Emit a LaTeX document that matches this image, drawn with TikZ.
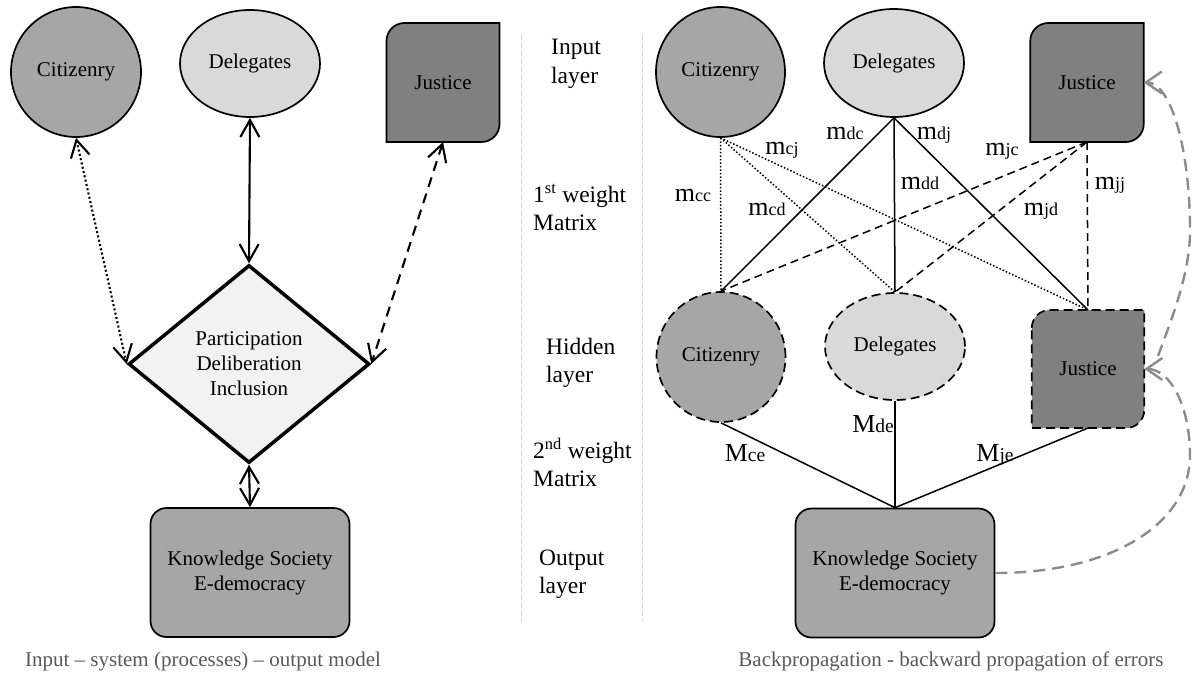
\documentclass[tikz,border=0pt]{standalone}
\usepackage{fontspec}
\setmainfont{Liberation Serif}
\usetikzlibrary{shapes.geometric,arrows.meta,backgrounds}

\definecolor{citgray}{HTML}{A6A6A6}
\definecolor{delgray}{HTML}{D9D9D9}
\definecolor{jusgray}{HTML}{808080}
\definecolor{procgray}{HTML}{F2F2F2}
\definecolor{capgray}{HTML}{595959}
\definecolor{sepgray}{HTML}{D0D0D0}
\definecolor{bpgray}{HTML}{8C8C8C}

\newcommand{\nodefont}{\fontsize{21}{25}\selectfont}
\newcommand{\layerfont}{\fontsize{23.5}{28.5}\selectfont}
% weight label: large letter followed by a smaller index on the same baseline
\newcommand{\wlab}[2]{{\fontsize{26}{26}\selectfont #1}{\fontsize{18}{18}\selectfont #2}}
\newcommand{\Wlab}[2]{{\fontsize{26}{26}\selectfont #1}{\fontsize{19.5}{19.5}\selectfont #2}}

\begin{document}
\begin{tikzpicture}[x=1pt,y=-1pt,
  ellnode/.style={ellipse, draw, line width=1.7pt, inner sep=0pt, font=\nodefont},
  hidden/.style={dash pattern=on 9pt off 5pt},
  jusnode/.style={rectangle, draw=none, inner sep=0pt, outer sep=0pt, font=\nodefont},
  jusshape/.style={fill=jusgray, draw=black, line width=1.7pt},
  ksnode/.style={rectangle, rounded corners=16pt, draw, line width=1.7pt, fill=citgray,
    minimum width=199pt, minimum height=129pt, align=center, font=\nodefont},
  lboth/.style={line width=2.1pt,
    {Straight Barb[length=17pt,width=19pt]}-{Straight Barb[length=17pt,width=19pt]}},
  ldash/.style={dash pattern=on 10pt off 7pt},
  ldot/.style={dash pattern=on 2pt off 2.4pt},
  wsolid/.style={line width=1.5pt},
  wdot/.style={line width=1.5pt, dash pattern=on 1.5pt off 2pt},
  wdash/.style={line width=1.5pt, dash pattern=on 8pt off 5pt},
  wlabel/.style={anchor=base, inner sep=0pt},
  layerlab/.style={anchor=west, align=left, inner sep=0pt, font=\layerfont},
  caption/.style={inner sep=0pt, text=capgray, font=\fontsize{21}{25}\selectfont},
  sepline/.style={draw=sepgray, line width=1pt, dash pattern=on 5pt off 3pt},
  bparrow/.style={draw=bpgray, line width=2.4pt, dash pattern=on 12pt off 7pt,
    -{Straight Barb[length=16pt,width=22pt]}}
]
\useasboundingbox (0,0) rectangle (1193,672);

% ---------- input - system - output model ----------
\node[ellnode, fill=citgray, minimum width=130pt, minimum height=130pt] (lc) at (76,72) {Citizenry};
\node[ellnode, fill=delgray, minimum width=140pt, minimum height=107pt] (ld) at (250,63.5) {Delegates};
\node[jusnode, minimum width=113pt, minimum height=119pt] (lj) at (443,82.5) {Justice};
\node[diamond, draw, line width=3.5pt, fill=procgray, minimum width=241pt, minimum height=198pt,
  inner sep=0pt, align=center, font=\nodefont] (proc) at (249,364)
  {Participation\\Deliberation\\Inclusion};
\node[ksnode] (lks) at (250,572.5) {Knowledge Society\\E-democracy};

\draw[lboth] (ld.south) -- (proc.north);
\draw[lboth, ldot] (lc.south) -- (proc.west);
\draw[lboth, ldash] (lj.south) -- (proc.east);
\draw[lboth] (proc.south) -- (lks.north);

\node[caption] (capl) at (203,661) {Input – system (processes) – output model};

% ---------- layer column ----------
\draw[sepline] (521.5,35) -- (521.5,622);
\draw[sepline] (642.5,35) -- (642.5,622);

\node[layerlab] (lin) at (551,64) {Input\\layer};
\node[layerlab] (lw1) at (533,207.5) {1\textsuperscript{st} weight\\Matrix};
\node[layerlab] (lhid) at (546,363) {Hidden\\layer};
\node[layerlab] (lw2) at (533,462.5) {2\textsuperscript{nd} weight\\Matrix};
\node[layerlab] (lout) at (539,574) {Output\\layer};

% ---------- network with backpropagation ----------
\node[ellnode, fill=citgray, minimum width=129pt, minimum height=130pt] (rc) at (720.5,72) {Citizenry};
\node[ellnode, fill=delgray, minimum width=140pt, minimum height=108pt] (rd) at (894,63) {Delegates};
\node[jusnode, minimum width=113.5pt, minimum height=119pt] (rj) at (1087,82.5) {Justice};

\node[ellnode, hidden, fill=citgray, minimum width=129pt, minimum height=130pt] (hc) at (721,357) {Citizenry};
\node[ellnode, hidden, fill=delgray, minimum width=140pt, minimum height=107pt] (hd) at (895,346.5) {Delegates};
\node[jusnode, minimum width=112.5pt, minimum height=118pt] (hj) at (1088,369) {Justice};

\node[ksnode] (rks) at (895,573) {Knowledge Society\\E-democracy};

\begin{pgfonlayer}{background}
  \draw[jusshape] ([yshift=-18pt]lj.north west) arc[start angle=180,end angle=90,radius=18pt]
    -- (lj.north east) -- ([yshift=18pt]lj.south east) arc[start angle=0,end angle=-90,radius=18pt]
    -- (lj.south west) -- cycle;
  \draw[jusshape] ([yshift=-18pt]rj.north west) arc[start angle=180,end angle=90,radius=18pt]
    -- (rj.north east) -- ([yshift=18pt]rj.south east) arc[start angle=0,end angle=-90,radius=18pt]
    -- (rj.south west) -- cycle;
  \draw[jusshape, hidden] ([yshift=-18pt]hj.north west) arc[start angle=180,end angle=90,radius=18pt]
    -- (hj.north east) -- ([yshift=18pt]hj.south east) arc[start angle=0,end angle=-90,radius=18pt]
    -- (hj.south west) -- cycle;
\end{pgfonlayer}

% first weight matrix
\foreach \t in {hc,hd,hj} {
  \draw[wdot] (rc.south) -- (\t.north);
  \draw[wsolid] (rd.south) -- (\t.north);
  \draw[wdash] (rj.south) -- (\t.north);
}
% second weight matrix
\foreach \t in {hc,hd,hj} {
  \draw[wsolid] (\t.south) -- (rks.north);
}

\node[wlabel] (mcc) at (693,201) {\wlab{m}{cc}};
\node[wlabel] (mcj) at (782,154) {\wlab{m}{cj}};
\node[wlabel] (mdc) at (845,139) {\wlab{m}{dc}};
\node[wlabel] (mdj) at (934,139) {\wlab{m}{dj}};
\node[wlabel] (mjc) at (1002,155) {\wlab{m}{jc}};
\node[wlabel] (mdd) at (920,189) {\wlab{m}{dd}};
\node[wlabel] (mcd) at (767,215) {\wlab{m}{cd}};
\node[wlabel] (mjd) at (1041,215) {\wlab{m}{jd}};
\node[wlabel] (mjj) at (1110,189) {\wlab{m}{jj}};

\node[wlabel] (Mce) at (745,461) {\Wlab{M}{ce}};
\node[wlabel] (Mde) at (873,432) {\Wlab{M}{de}};
\node[wlabel] (Mje) at (995,461) {\Wlab{M}{je}};

% error fed back to the hidden and input layers
\coordinate (bpstart) at (1158,356);
\draw[bparrow] (rks.east) .. controls (1110,573) and (1190,525) .. (1190,455)
  .. controls (1190,408) and (1171,369) .. (hj.east);
\draw[bparrow] (bpstart) .. controls (1170,323) and (1190,275) .. (1190,231)
  .. controls (1190,149) and (1171,82.5) .. (rj.east);

\node[caption] (capr) at (951,661) {Backpropagation - backward propagation of errors};
\end{tikzpicture}
\end{document}
